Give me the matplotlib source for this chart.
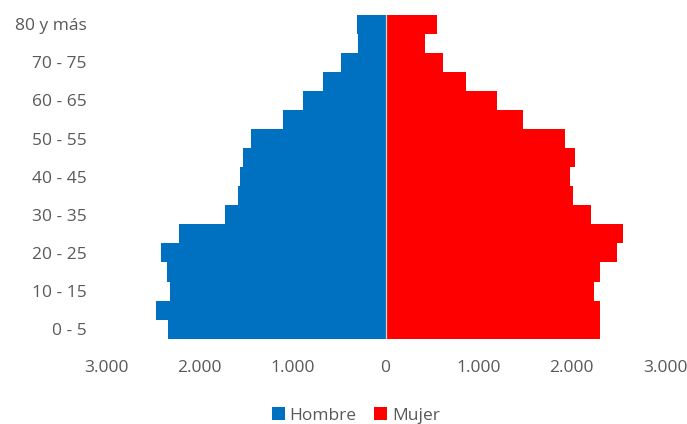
import numpy as np
import matplotlib
matplotlib.use('Agg')
import matplotlib.pyplot as plt
from matplotlib.ticker import FuncFormatter

# Age groups (bottom to top)
ages = ['0 - 5', '5 - 10', '10 - 15', '15 - 20', '20 - 25', '25 - 30', '30 - 35',
        '35 - 40', '40 - 45', '45 - 50', '50 - 55', '55 - 60', '60 - 65',
        '65 - 70', '70 - 75', '75 - 80', '80 y más']
hombre = [2339, 2460, 2310, 2349, 2414, 2215, 1718, 1579, 1565, 1532,
          1446, 1095, 890, 672, 475, 292, 306]
mujer = [2304, 2304, 2233, 2304, 2487, 2548, 2201, 2014, 1982, 2032,
         1928, 1473, 1201, 868, 620, 427, 552]
x_ticks = [-3000, -2000, -1000, 0, 1000, 2000, 3000]

text_color = '#595959'
plt.rcParams['font.family'] = ['Open Sans', 'DejaVu Sans']

fig = plt.figure(figsize=(6.87, 4.24), dpi=100)
ax = fig.add_axes([0.1543, 0.2012, 0.8137, 0.7641])

y = np.arange(len(ages))
ax.barh(y, -np.array(hombre), height=1.0, color='#0070C0', linewidth=0, label='Hombre')
ax.barh(y, mujer, height=1.0, color='#FF0000', linewidth=0, label='Mujer')
ax.axvline(0, color='#D0D0D0', linewidth=0.9, zorder=3)

ax.set_xlim(-3000, 3000)
ax.set_ylim(-0.5, len(ages) - 0.5)
ax.set_xticks(x_ticks)
ax.xaxis.set_major_formatter(FuncFormatter(lambda v, p: f'{abs(int(v)):,}'.replace(',', '.')))
ax.set_yticks(y[::2])
ax.set_yticklabels(ages[::2])

ax.tick_params(axis='x', length=0, pad=15, labelsize=12.5, labelcolor=text_color)
ax.tick_params(axis='y', length=0, pad=14, labelsize=12.5, labelcolor=text_color)
for s in ax.spines.values():
    s.set_visible(False)

fig.legend(loc='center', bbox_to_anchor=(0.518, 0.02), ncol=2, frameon=False,
           fontsize=12.5, labelcolor=text_color, handlelength=0.75, handleheight=0.75,
           handletextpad=0.3, columnspacing=1.0)

fig.savefig('out.png', dpi=100)
